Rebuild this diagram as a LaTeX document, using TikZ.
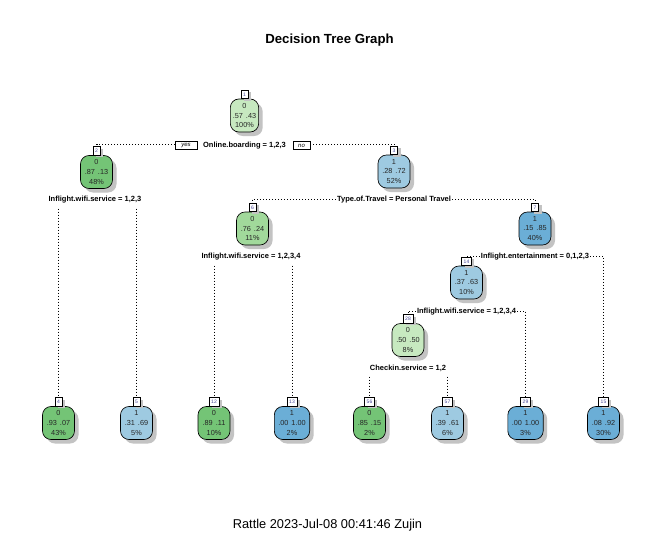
\documentclass[tikz,border=0pt]{standalone}
\usepackage{fontspec}
\setmainfont{Liberation Sans}
\usetikzlibrary{shadows}
\definecolor{gdark}{RGB}{116,196,118}
\definecolor{gmid}{RGB}{161,217,155}
\definecolor{glight}{RGB}{199,233,192}
\definecolor{blight}{RGB}{158,202,225}
\definecolor{bmid}{RGB}{107,174,214}
\definecolor{numcol}{RGB}{70,70,150}
\definecolor{shadowgray}{RGB}{195,195,195}
\tikzset{
  tnode/.style={draw=black, line width=0.65pt, rounded corners=8.5pt,
    minimum width=32pt, minimum height=33pt, inner xsep=4pt, inner ysep=1pt,
    align=center, text=black!85, font=\fontsize{7.3}{9.7}\selectfont,
    drop shadow={shadow xshift=4pt, shadow yshift=-4pt, fill=shadowgray, opacity=1}},
  numbox/.style={draw=black, fill=white, line width=0.6pt, minimum width=7pt,
    minimum height=8.5pt, inner xsep=2.2pt, inner ysep=0.5pt, anchor=south,
    text=numcol, font=\fontsize{5}{5}\selectfont, yshift=-0.3pt,
    drop shadow={shadow xshift=3pt, shadow yshift=-2pt, fill=shadowgray, opacity=1}},
  splitlab/.style={inner sep=1pt, font=\bfseries\fontsize{7.5}{8}\selectfont, text=black},
  yesno/.style={draw=black, fill=white, line width=0.6pt, inner xsep=3pt, inner ysep=0.5pt,
    minimum height=8pt, font=\itshape\fontsize{6}{6}\selectfont},
  branch/.style={line width=0.75pt, dash pattern=on 0.75pt off 2.25pt},
}
\newcommand{\pr}[3]{#1\\#2\\#3}
\begin{document}
\begin{tikzpicture}[x=1pt,y=-1pt]
\useasboundingbox (0,0) rectangle (661,551);
\fill[white] (0,0) rectangle (661,551);
\node[font=\bfseries\fontsize{13.2}{14}\selectfont] (title) at (329.5,40) {Decision Tree Graph};
\node[font=\fontsize{12.8}{14}\selectfont] (foot) at (327.5,525.5) {Rattle 2023-Jul-08 00:41:46 Zujin};

% internal nodes
\node[tnode, fill=glight, minimum width=28pt, inner xsep=2.5pt] (n1) at (244.5,115.5) {\pr{0}{.57\hspace{3pt}.43}{100\%}};
\node[tnode, fill=gdark] (n2) at (96.5,172) {\pr{0}{.87\hspace{3pt}.13}{48\%}};
\node[tnode, fill=blight] (n3) at (394,171.5) {\pr{1}{.28\hspace{3pt}.72}{52\%}};
\node[tnode, fill=gmid] (n6) at (252.5,228.5) {\pr{0}{.76\hspace{3pt}.24}{11\%}};
\node[tnode, fill=bmid] (n7) at (535,228.5) {\pr{1}{.15\hspace{3pt}.85}{40\%}};
\node[tnode, fill=blight] (n14) at (466.5,282.5) {\pr{1}{.37\hspace{3pt}.63}{10\%}};
\node[tnode, fill=glight] (n28) at (408,340) {\pr{0}{.50\hspace{3pt}.50}{8\%}};
% leaves
\node[tnode, fill=gdark] (n4) at (58.5,423) {\pr{0}{.93\hspace{3pt}.07}{43\%}};
\node[tnode, fill=blight] (n5) at (136.5,423) {\pr{1}{.31\hspace{3pt}.69}{5\%}};
\node[tnode, fill=gdark] (n12) at (214,423) {\pr{0}{.89\hspace{3pt}.11}{10\%}};
\node[tnode, fill=bmid] (n13) at (292,423) {\pr{1}{.00\hspace{3pt}1.00}{2\%}};
\node[tnode, fill=gdark] (n56) at (369.5,423) {\pr{0}{.85\hspace{3pt}.15}{2\%}};
\node[tnode, fill=blight] (n57) at (447.5,423) {\pr{1}{.39\hspace{3pt}.61}{6\%}};
\node[tnode, fill=bmid] (n29) at (525.5,423) {\pr{1}{.00\hspace{3pt}1.00}{3\%}};
\node[tnode, fill=bmid] (n15) at (603.5,423) {\pr{1}{.08\hspace{3pt}.92}{30\%}};

% number labels
\foreach \n in {1,2,3,6,7,14,28,4,5,12,13,56,57,29,15}{
  \node[numbox] (l\n) at (n\n.north) {\n};
}

% split labels
\node[splitlab] (s1) at (244.5,145.5) {Online.boarding = 1,2,3};
\node[yesno, minimum width=22pt] (yes) at (186,145.5) {yes};
\node[yesno, minimum width=17pt] (no) at (301.5,145.5) {no};
\node[splitlab] (s2) at (95,200) {Inflight.wifi.service = 1,2,3};
\node[splitlab] (s3) at (394,200) {Type.of.Travel = Personal Travel};
\node[splitlab] (s6) at (251,257) {Inflight.wifi.service = 1,2,3,4};
\node[splitlab] (s7) at (535,257) {Inflight.entertainment = 0,1,2,3};
\node[splitlab] (s14) at (466.5,312) {Inflight.wifi.service = 1,2,3,4};
\node[splitlab] (s28) at (408,368) {Checkin.service = 1,2};

% branches
\draw[branch] ([yshift=1.5pt]yes.west) -| (l2.north);
\draw[branch] ([yshift=1.5pt]no.east) -| (l3.north);
\draw[branch] ([yshift=-4pt]s2.south -| l4.north) -- (l4.north);
\draw[branch] ([yshift=-4pt]s2.south -| l5.north) -- (l5.north);
\draw[branch] ([yshift=1pt]s3.west) -| (l6.north);
\draw[branch] ([yshift=1pt]s3.east) -| (l7.north);
\draw[branch] ([yshift=-4pt]s6.south -| l12.north) -- (l12.north);
\draw[branch] ([yshift=-4pt]s6.south -| l13.north) -- (l13.north);
\draw[branch] ([yshift=1pt]s7.west) -| (l14.north);
\draw[branch] ([yshift=1pt]s7.east) -| (l15.north);
\draw[branch] ([yshift=1pt]s14.west) -| (l28.north);
\draw[branch] ([yshift=1pt]s14.east) -| (l29.north);
\draw[branch] ([yshift=-4pt]s28.south -| l56.north) -- (l56.north);
\draw[branch] ([yshift=-4pt]s28.south -| l57.north) -- (l57.north);
\end{tikzpicture}
\end{document}
